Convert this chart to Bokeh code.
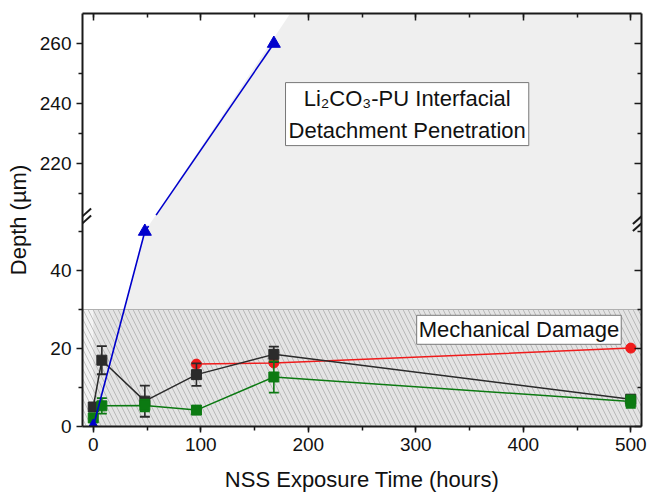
import numpy as np
from bokeh.plotting import figure
from bokeh.models import (ColumnDataSource, Label, LinearAxis, FixedTicker,
                          SingleIntervalTicker, CustomJSTickFormatter, Range1d, Arrow)
from bokeh.embed import file_html
from bokeh.resources import INLINE

# ---------------- data ----------------
time_black = [0, 8, 48, 96, 168, 500]
depth_black = [5.0, 17.0, 6.5, 13.3, 18.5, 7.0]
err_black = [0.0, 3.6, 4.0, 2.9, 2.0, 1.0]

time_green = [0, 8, 48, 96, 168, 500]
depth_green = [2.2, 5.3, 5.4, 4.2, 12.7, 6.4]
err_green = [0.0, 2.0, 1.5, 0.0, 4.0, 1.6]

time_red = [96, 168, 500]
depth_red = [16.0, 16.3, 20.1]

time_blue = [0, 48, 168]
depth_blue = [0.0, 50.0, 260.0]

y_major = [0, 20, 40, 220, 240, 260]
y_minor = [10, 30, 50, 210, 230, 250]

damage_top = 30.0
label_interface = "Li\u2082CO\u2083-PU Interfacial\nDetachment Penetration"
label_damage = "Mechanical Damage"

# ---------------- broken-axis scale ----------------
LOW_TOP = 52.0      # top of the lower segment
HIGH_BOTTOM = 200.0  # bottom of the upper segment
HIGH_TOP = 270.0
R = 0.770           # upper segment compression relative to lower segment
X_MIN, X_MAX = -10, 510


def to_v(y):
    y = np.asarray(y, dtype=float)
    return np.where(y <= LOW_TOP, y, LOW_TOP + (y - HIGH_BOTTOM) * R)


V_TOP = float(to_v(HIGH_TOP))

FONT = "Liberation Sans"
C_BLACK = "#2b2b2b"
C_GREEN = "#0c7a12"
C_RED = "#f01c1c"
C_BLUE = "#0000cc"

p = figure(width=647, height=494, x_range=Range1d(X_MIN, X_MAX), y_range=Range1d(0, V_TOP),
           output_backend="svg", toolbar_location=None,
           min_border_left=82, min_border_right=6, min_border_top=13, min_border_bottom=67)
p.xgrid.visible = False
p.ygrid.visible = False
p.outline_line_color = None
p.background_fill_color = "white"

# ---------------- shaded regions ----------------
bx = np.array(time_blue, dtype=float)
bv = to_v(depth_blue)
x30 = bx[0] + (damage_top - bv[0]) / (bv[1] - bv[0]) * (bx[1] - bx[0])
x_top = bx[1] + (V_TOP - bv[1]) / (bv[2] - bv[1]) * (bx[2] - bx[1]) - 4
p.patch([x30, bx[1], x_top, X_MAX, X_MAX], [damage_top, bv[1], V_TOP, V_TOP, damage_top],
        fill_color="#efefef", line_color=None)

p.quad(left=[X_MIN], right=[X_MAX], bottom=[0], top=[damage_top],
       fill_color="#f3f3f3", line_color=None)
p.quad(left=[0], right=[X_MAX], bottom=[0], top=[damage_top],
       fill_color="#e4e4e4", line_color=None)
p.quad(left=[X_MIN], right=[X_MAX], bottom=[0], top=[damage_top],
       fill_alpha=0, line_color="#b0b0b0", line_width=1,
       hatch_pattern="\\", hatch_color="#8a8a8a", hatch_scale=10, hatch_weight=0.8, hatch_alpha=0.6)


# ---------------- series ----------------
def errorbars(xs, ys, es, color):
    keep = [i for i, e in enumerate(es) if e > 0]
    xe = [xs[i] for i in keep]
    up = to_v([ys[i] + es[i] for i in keep])
    lo = to_v([ys[i] - es[i] for i in keep])
    p.segment(x0=xe, y0=lo, x1=xe, y1=up, line_color=color, line_width=1.6)
    p.scatter(xe, up, marker="dash", size=10, line_color=color, line_width=1.8)
    p.scatter(xe, lo, marker="dash", size=10, line_color=color, line_width=1.8)


# red
p.line(time_red, to_v(depth_red), line_color=C_RED, line_width=1.5)
p.scatter(time_red, to_v(depth_red), marker="circle", size=10, fill_color=C_RED, line_color=C_RED)

# black
p.line(time_black, to_v(depth_black), line_color=C_BLACK, line_width=1.5)
errorbars(time_black, depth_black, err_black, C_BLACK)
p.scatter(time_black, to_v(depth_black), marker="square", size=10, fill_color=C_BLACK, line_color=C_BLACK)

# green
p.line(time_green, to_v(depth_green), line_color=C_GREEN, line_width=1.5)
errorbars(time_green, depth_green, err_green, C_GREEN)
p.scatter(time_green, to_v(depth_green), marker="square", size=10, fill_color=C_GREEN, line_color=C_GREEN)

# blue (line interrupted at the axis break)
gap_lo, gap_hi = LOW_TOP - 0.6, LOW_TOP + 2.2


def x_on_seg(v):
    return bx[1] + (v - bv[1]) / (bv[2] - bv[1]) * (bx[2] - bx[1])


p.line([bx[0], bx[1], x_on_seg(gap_lo)], [bv[0], bv[1], gap_lo], line_color=C_BLUE, line_width=1.6)
p.line([x_on_seg(gap_hi), bx[2]], [gap_hi, bv[2]], line_color=C_BLUE, line_width=1.6)
p.scatter(time_blue, bv, marker="triangle", size=13, fill_color=C_BLUE, line_color=C_BLUE)

# ---------------- text boxes ----------------
p.add_layout(Label(x=292, y=float(to_v(236.5)), text=label_interface, text_align="center",
                   text_baseline="middle", text_font=FONT, text_font_size="22px",
                   text_color="#111111", text_line_height=1.28,
                   background_fill_color="white", border_line_color="#777777",
                   border_line_width=1, padding=3))
p.add_layout(Label(x=396, y=24.8, text=label_damage, text_align="center",
                   text_baseline="middle", text_font=FONT, text_font_size="22px",
                   text_color="#111111",
                   background_fill_color="white", border_line_color="#777777",
                   border_line_width=1, padding=2))

# ---------------- axes ----------------
yticker = FixedTicker(ticks=list(to_v(y_major)), minor_ticks=list(to_v(y_minor)))
yfmt = CustomJSTickFormatter(args=dict(lt=LOW_TOP, hb=HIGH_BOTTOM, r=R), code="""
    const v = tick <= lt + 1e-6 ? tick : hb + (tick - lt) / r;
    return Math.round(v).toString();
""")
blank = CustomJSTickFormatter(code="return '';")
xticker = SingleIntervalTicker(interval=100, num_minor_ticks=2)


def style(ax, inside=False, labels=True):
    ax.axis_line_width = 2
    ax.axis_line_color = "#1a1a1a"
    ax.major_tick_line_width = 1.5
    ax.minor_tick_line_width = 1.5
    ax.major_tick_line_color = "#1a1a1a"
    ax.minor_tick_line_color = "#1a1a1a"
    if inside:
        ax.major_tick_in, ax.major_tick_out = 7, 0
        ax.minor_tick_in, ax.minor_tick_out = 4, 0
    else:
        ax.major_tick_in, ax.major_tick_out = 0, 6
        ax.minor_tick_in, ax.minor_tick_out = 0, 4
    ax.major_label_text_font = FONT
    ax.major_label_text_font_size = "19px"
    ax.major_label_text_color = "#111111"
    ax.axis_label_text_font = FONT
    ax.axis_label_text_font_size = "22px"
    ax.axis_label_text_font_style = "normal"
    ax.axis_label_text_color = "#111111"
    if not labels:
        ax.formatter = blank
        ax.major_label_standoff = 0


p.xaxis.ticker = xticker
p.xaxis.axis_label = "NSS Exposure Time (hours)"
style(p.xaxis[0])
p.xaxis.major_label_standoff = 5
p.xaxis.axis_label_standoff = 13

p.yaxis.ticker = yticker
p.yaxis.formatter = yfmt
p.yaxis.axis_label = "Depth (\u00b5m)"
style(p.yaxis[0])
p.yaxis.major_label_standoff = 5
p.yaxis.axis_label_standoff = 6

top_ax = LinearAxis(ticker=SingleIntervalTicker(interval=100, num_minor_ticks=2))
style(top_ax, inside=True, labels=False)
p.add_layout(top_ax, "above")
right_ax = LinearAxis(ticker=FixedTicker(ticks=list(to_v(y_major)), minor_ticks=list(to_v(y_minor))))
style(right_ax, inside=True, labels=False)
p.add_layout(right_ax, "right")

# ---------------- axis break marks ----------------
brk = LOW_TOP + 1.0
dx, dv, sep = 8.0, 2.0, 0.9
for xb in (X_MIN, X_MAX):
    for off in (-sep, sep):
        p.add_layout(Arrow(x_start=xb - dx, y_start=brk + off - dv, x_end=xb + dx, y_end=brk + off + dv,
                           end=None, line_color="#1a1a1a", line_width=2))

open("out.html", "w").write(file_html(p, INLINE))
